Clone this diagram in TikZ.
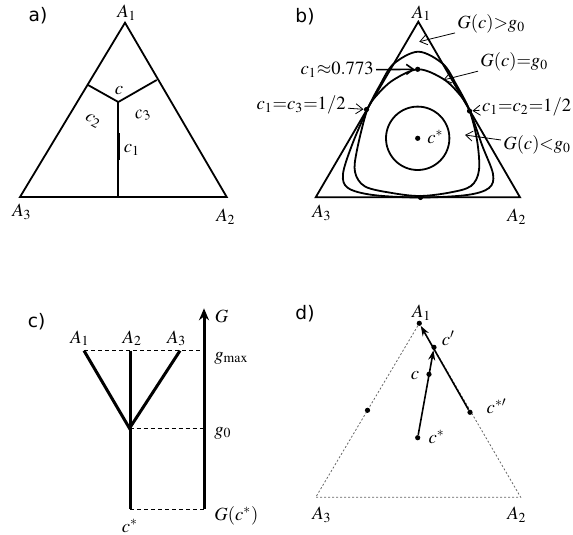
\documentclass[tikz,border=0pt]{standalone}
\usepackage{mathptmx}
\usepackage{fontspec}
\setmainfont{Liberation Serif}
\newfontfamily\panelfont{DejaVu Sans}
\usetikzlibrary{positioning,arrows.meta}

\newcommand\lblsize{\fontsize{9.3}{11}\selectfont}

\tikzset{
  side/.style={line width=0.9pt},
  tree/.style={line width=1.5pt},
  guide/.style={dash pattern=on 2pt off 1.5pt, line width=0.45pt},
  dotside/.style={dash pattern=on 1pt off 1pt, gray!80!black, line width=0.4pt},
  blob/.style={circle, fill, inner sep=0pt, minimum size=2.6pt},
  lbl/.style={font=\lblsize, inner sep=1pt},
  panel/.style={font=\panelfont\lblsize, inner sep=0pt},
  pointer/.style={-{Straight Barb[length=3.5pt,width=5pt]}, line width=0.4pt},
  track/.style={-{Stealth[length=5pt,width=3.5pt]}, line width=0.8pt}
}

\begin{document}
\begin{tikzpicture}[x=0.5pt, y=-0.5pt]
		\useasboundingbox (0,0) rectangle (573,535);

		% a) Simplex split into the three parts around c
		\node[panel] (pa) at (38,16) {a)};
		\coordinate (a1) at (125,22.7);
		\coordinate (a2) at (226.7,197);
		\coordinate (a3) at (20,197);
		\draw[side] (a1) -- (a2) -- (a3) -- cycle;
		\coordinate (ac) at (118.3,102);
		\coordinate (af2) at (88,85);     % foot on A1A3
		\coordinate (af3) at (156.7,80);  % foot on A1A2
		\coordinate (af1) at (118.3,197); % foot on A2A3
		\draw[side] (af2) -- (ac) -- (af3);
		\draw[side] (ac) -- (af1);
		% thicker piece next to c1
		\coordinate (ak1) at (118.3,133);
		\coordinate (ak2) at (118.3,160);
		\draw[line width=1.7pt] (ak1) -- (ak2);
		\node[lbl] (la1) at (127,13) {$A_1$};
		\node[lbl] (la2) at (226,217) {$A_2$};
		\node[lbl] (la3) at (22,212) {$A_3$};
		\node[lbl, inner sep=0pt] (lc) at (119,91) {$c$};
		\node[lbl, inner sep=0pt, rotate=-30] (lc2) at (93,121) {$c_2$};
		\node[lbl, inner sep=0pt, rotate=15] (lc3) at (143,115) {$c_3$};
		\node[lbl] (lc1) at (132,150) {$c_1$};

		% b) Level lines of G
		\node[panel] (pb) at (305,17) {b)};
		\coordinate (b1) at (418.3,21.7);
		\coordinate (b2) at (520,197.3);
		\coordinate (b3) at (315.7,197.3);
		\draw[side] (b1) -- (b2) -- (b3) -- cycle;
		% outer line
		\draw[side] plot[smooth cycle, tension=0.55] coordinates {
			(418.3,51.7) (443,64) (456.5,85) (469.5,110) (482,145) (493,174)
			(489,188) (467,195) (420,197.5) (373,195) (348,188) (343,174)
			(352,145) (367,110) (380,85) (393.5,64)};
		% inner line
		\draw[side] plot[smooth cycle, tension=0.55] coordinates {
			(418.3,69.3) (443.3,79) (460,95) (469.5,110.5) (477,140) (479,170)
			(471,186) (450,192.5) (420,196) (392,193) (365,186.5) (355,172)
			(357,150) (367,110.5) (377,95) (393.3,80)};
		\coordinate (bs) at (417.7,138.3);
		\draw[side] (bs) circle (31.7);
		\node[blob] (btop) at (417.7,69.3) {};
		\node[blob] (bm13) at (366.5,109.5) {};
		\node[blob] (bm12) at (469.5,111) {};
		\node[blob] (bm23) at (420.5,197.5) {};
		\node[blob] (bstar) at (bs) {};
		\node[lbl] (lb1) at (421.7,13.3) {$A_1$};
		\node[lbl] (lb2) at (517,217) {$A_2$};
		\node[lbl] (lb3) at (322,213) {$A_3$};
		\node[lbl, anchor=west] (lbs) at (425,137) {$c^{*}$};
		% annotations with arrows
		\node[lbl, anchor=west] (gbig) at (455,24) {$G(c){>}g_0$};
		\coordinate (tbig) at (419.3,41.7);
		\draw[pointer] (gbig) -- (tbig);
		\node[lbl, anchor=west] (geq) at (478,62) {$G(c){=}g_0$};
		\coordinate (teq) at (443.3,80);
		\draw[pointer] (geq) -- (teq);
		\node[lbl, anchor=east] (gsmall) at (573.5,145) {$G(c){<}g_0$};
		\coordinate (tsmall) at (465,135);
		\draw[pointer] (gsmall) -- (tsmall);
		\node[lbl, anchor=east] (lmax) at (376,70) {$c_1{\approx}0.773$};
		\draw[pointer, line width=0.8pt] (lmax) -- (btop);
		\node[lbl, anchor=east] (l13) at (348,105) {$c_1{=}c_3{=}1/2$};
		\draw[pointer] (l13) -- (bm13);
		\node[lbl, anchor=east] (l12) at (573.5,107) {$c_1{=}c_2{=}1/2$};
		\draw[pointer] (l12) -- (bm12);

		% c) Tree of the level sets
		\node[panel] (pc) at (36.7,321.7) {c)};
		\coordinate (gbot) at (204,509.3);
		\coordinate (gtop) at (204,308.3);
		\draw[tree, -{Stealth[length=6pt,width=5pt]}] (gbot) -- (gtop);
		\coordinate (t1) at (84,350.7);
		\coordinate (t2) at (130,350.7);
		\coordinate (t3) at (180,350.7);
		\coordinate (tb) at (129.5,428.3);
		\coordinate (ts) at (130,509.3);
		\coordinate (gm) at (204,350.7);
		\coordinate (g0) at (204,428.3);
		\draw[guide] (t1) -- (gm);
		\draw[guide] (tb) -- (g0);
		\draw[guide] (ts) -- (gbot);
		\draw[tree] (t1) -- (tb) -- (t3);
		\draw[tree] (t2) -- (ts);
		\node[lbl] (lt1) at (80,338.3) {$A_1$};
		\node[lbl] (lt2) at (132.3,338.3) {$A_2$};
		\node[lbl] (lt3) at (176.7,338.3) {$A_3$};
		\node[lbl] (lG) at (221.7,316.7) {$G$};
		\node[lbl, anchor=west] (lgm) at (212,358) {$g_{\max}$};
		\node[lbl, anchor=west] (lg0) at (212,433) {$g_0$};
		\node[lbl, anchor=west] (lgs) at (212,516) {$G(c^{*})$};
		\node[lbl] (lts) at (130,526) {$c^{*}$};

		% d) Paths towards A1
		\node[panel] (pd) at (305,313.3) {d)};
		\coordinate (d1) at (419.3,323.3);
		\coordinate (d2) at (520.7,497.3);
		\coordinate (d3) at (315.7,497.3);
		\draw[dotside] (d1) -- (d2) -- (d3) -- cycle;
		\node[blob] (dA1) at (d1) {};
		\node[blob] (dm13) at (367.5,410.3) {};
		\node[blob] (dcs) at (417.7,437.7) {};
		\node[blob] (dc) at (429,374.3) {};
		\node[blob] (dcp) at (434,347.3) {};
		\node[blob] (dcsp) at (470,412.3) {};
		\draw[track] (dcs) -- (dcp);
		\draw[track] (dcsp) -- (dA1);
		\node[lbl] (ld1) at (421.7,312.7) {$A_1$};
		\node[lbl] (ld2) at (517,515) {$A_2$};
		\node[lbl] (ld3) at (322,515) {$A_3$};
		\node[lbl] (ldcp) at (448.3,338.3) {$c'$};
		\node[lbl] (ldc) at (415,376) {$c$};
		\node[lbl] (ldcsp) at (496.7,406.7) {$c^{*\prime}$};
		\node[lbl] (ldcs) at (436.7,436.7) {$c^{*}$};
	\end{tikzpicture}
\end{document}
